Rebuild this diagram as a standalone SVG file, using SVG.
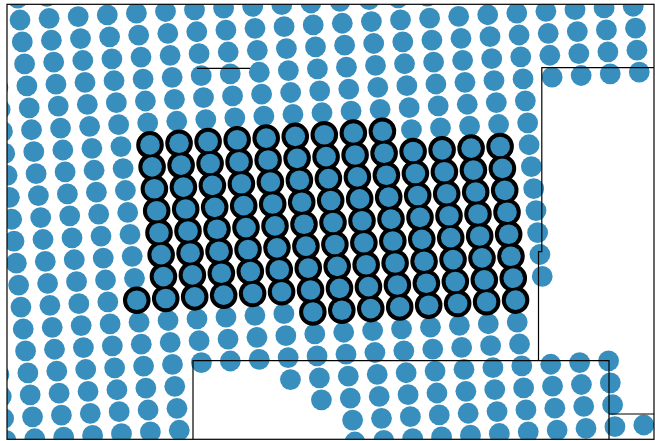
<svg xmlns="http://www.w3.org/2000/svg" width="655" height="441" viewBox="0 0 655 441">
<style>
.ln{fill:none;stroke:#000;stroke-width:1.2}
</style>
<defs>
<clipPath id="ax"><rect x="7" y="4.3" width="647" height="435"/></clipPath>
<g id="A"><circle cx="-58.2" cy="3.4" r="10.4"/><circle cx="-29.1" cy="1.7" r="10.4"/><circle cx="0" cy="0" r="10.4"/><circle cx="29.1" cy="-1.7" r="10.4"/><circle cx="58.2" cy="-3.4" r="10.4"/><circle cx="87.3" cy="-5.1" r="10.4"/><circle cx="116.4" cy="-6.8" r="10.4"/><circle cx="145.5" cy="-8.5" r="10.4"/><circle cx="174.5" cy="-10.2" r="10.4"/><circle cx="203.6" cy="-11.9" r="10.4"/><circle cx="232.7" cy="-13.6" r="10.4"/><circle cx="261.8" cy="-15.3" r="10.4"/><circle cx="290.9" cy="-17" r="10.4"/><circle cx="320" cy="-18.7" r="10.4"/><circle cx="349.1" cy="-20.4" r="10.4"/><circle cx="378.2" cy="-22.1" r="10.4"/><circle cx="407.3" cy="-23.8" r="10.4"/><circle cx="436.4" cy="-25.5" r="10.4"/><circle cx="465.4" cy="-27.2" r="10.4"/><circle cx="494.5" cy="-28.9" r="10.4"/><circle cx="523.6" cy="-30.6" r="10.4"/><circle cx="552.7" cy="-32.3" r="10.4"/><circle cx="581.8" cy="-34" r="10.4"/><circle cx="610.9" cy="-35.7" r="10.4"/></g>
<g id="B1"><circle cx="-58.1" cy="3.4" r="10.4"/><circle cx="-29.05" cy="1.7" r="10.4"/><circle cx="0" cy="0" r="10.4"/><circle cx="29.05" cy="-1.7" r="10.4"/><circle cx="58.1" cy="-3.4" r="10.4"/><circle cx="87.15" cy="-5.1" r="10.4"/><circle cx="116.2" cy="-6.8" r="10.4"/><circle cx="145.25" cy="-8.5" r="10.4"/><circle cx="174.3" cy="-10.2" r="10.4"/><circle cx="203.35" cy="-11.9" r="10.4"/><circle cx="232.4" cy="-13.6" r="10.4"/><circle cx="261.45" cy="-15.3" r="10.4"/><circle cx="290.5" cy="-17" r="10.4"/><circle cx="319.55" cy="-18.7" r="10.4"/><circle cx="348.6" cy="-20.4" r="10.4"/><circle cx="377.65" cy="-22.1" r="10.4"/><circle cx="406.7" cy="-23.8" r="10.4"/><circle cx="435.75" cy="-25.5" r="10.4"/><circle cx="464.8" cy="-27.2" r="10.4"/><circle cx="493.85" cy="-28.9" r="10.4"/></g>
<g id="B2"><circle cx="522.9" cy="-30.6" r="10.4"/><circle cx="551.95" cy="-32.3" r="10.4"/><circle cx="581" cy="-34" r="10.4"/><circle cx="610.05" cy="-35.7" r="10.4"/></g>
<g id="C"><circle cx="-58" cy="3.4" r="10.4"/><circle cx="-29" cy="1.7" r="10.4"/><circle cx="0" cy="0" r="10.4"/><circle cx="29" cy="-1.7" r="10.4"/><circle cx="58" cy="-3.4" r="10.4"/><circle cx="87" cy="-5.1" r="10.4"/><circle cx="116" cy="-6.8" r="10.4"/><circle cx="145" cy="-8.5" r="10.4"/><circle cx="174" cy="-10.2" r="10.4"/><circle cx="203" cy="-11.9" r="10.4"/><circle cx="232" cy="-13.6" r="10.4"/><circle cx="261" cy="-15.3" r="10.4"/><circle cx="290" cy="-17" r="10.4"/><circle cx="319" cy="-18.7" r="10.4"/><circle cx="348" cy="-20.4" r="10.4"/><circle cx="377" cy="-22.1" r="10.4"/><circle cx="406" cy="-23.8" r="10.4"/><circle cx="435" cy="-25.5" r="10.4"/><circle cx="464" cy="-27.2" r="10.4"/><circle cx="493" cy="-28.9" r="10.4"/></g>
<g id="D1"><circle cx="-57.92" cy="3.4" r="10.4"/><circle cx="-28.96" cy="1.7" r="10.4"/><circle cx="0" cy="0" r="10.4"/><circle cx="28.96" cy="-1.7" r="10.4"/><circle cx="57.92" cy="-3.4" r="10.4"/><circle cx="86.88" cy="-5.1" r="10.4"/><circle cx="115.84" cy="-6.8" r="10.4"/><circle cx="144.8" cy="-8.5" r="10.4"/><circle cx="173.76" cy="-10.2" r="10.4"/><circle cx="202.72" cy="-11.9" r="10.4"/><circle cx="231.68" cy="-13.6" r="10.4"/><circle cx="260.64" cy="-15.3" r="10.4"/><circle cx="289.6" cy="-17" r="10.4"/><circle cx="318.56" cy="-18.7" r="10.4"/><circle cx="347.52" cy="-20.4" r="10.4"/><circle cx="376.48" cy="-22.1" r="10.4"/><circle cx="405.44" cy="-23.8" r="10.4"/><circle cx="434.4" cy="-25.5" r="10.4"/><circle cx="463.36" cy="-27.2" r="10.4"/></g>
<g id="D2"><circle cx="492.32" cy="-28.9" r="10.4"/></g>
<g id="E1"><circle cx="-57.84" cy="3.4" r="10.4"/><circle cx="-28.92" cy="1.7" r="10.4"/><circle cx="0" cy="0" r="10.4"/><circle cx="28.92" cy="-1.7" r="10.4"/><circle cx="57.84" cy="-3.4" r="10.4"/><circle cx="86.76" cy="-5.1" r="10.4"/><circle cx="115.68" cy="-6.8" r="10.4"/></g>
<g id="E2"><circle cx="144.6" cy="-8.5" r="10.4"/><circle cx="173.52" cy="-10.2" r="10.4"/><circle cx="202.44" cy="-11.9" r="10.4"/></g>
<g id="E3"><circle cx="231.36" cy="-13.6" r="10.4"/><circle cx="260.28" cy="-15.3" r="10.4"/><circle cx="289.2" cy="-17" r="10.4"/><circle cx="318.12" cy="-18.7" r="10.4"/><circle cx="347.04" cy="-20.4" r="10.4"/><circle cx="375.96" cy="-22.1" r="10.4"/><circle cx="404.88" cy="-23.8" r="10.4"/><circle cx="433.8" cy="-25.5" r="10.4"/><circle cx="462.72" cy="-27.2" r="10.4"/></g>
<g id="E4"><circle cx="491.64" cy="-28.9" r="10.4"/><circle cx="520.56" cy="-30.6" r="10.4"/><circle cx="549.48" cy="-32.3" r="10.4"/></g>
<g id="F1"><circle cx="-57.78" cy="3.4" r="10.4"/><circle cx="-28.89" cy="1.7" r="10.4"/><circle cx="0" cy="0" r="10.4"/><circle cx="28.89" cy="-1.7" r="10.4"/><circle cx="57.78" cy="-3.4" r="10.4"/><circle cx="86.67" cy="-5.1" r="10.4"/><circle cx="115.56" cy="-6.8" r="10.4"/></g>
<g id="F2"><circle cx="260.01" cy="-15.3" r="10.4"/></g>
<g id="F3"><circle cx="288.9" cy="-17" r="10.4"/><circle cx="317.79" cy="-18.7" r="10.4"/><circle cx="346.68" cy="-20.4" r="10.4"/><circle cx="375.57" cy="-22.1" r="10.4"/><circle cx="404.46" cy="-23.8" r="10.4"/><circle cx="433.35" cy="-25.5" r="10.4"/><circle cx="462.24" cy="-27.2" r="10.4"/><circle cx="491.13" cy="-28.9" r="10.4"/><circle cx="520.02" cy="-30.6" r="10.4"/><circle cx="548.91" cy="-32.3" r="10.4"/></g>
<g id="F4"><circle cx="577.8" cy="-34" r="10.4"/></g>
<g id="R6"><circle cx="116.2" cy="-6.8" r="9.8"/><circle cx="145.25" cy="-8.5" r="9.8"/><circle cx="174.3" cy="-10.2" r="9.8"/><circle cx="203.35" cy="-11.9" r="9.8"/><circle cx="232.4" cy="-13.6" r="9.8"/><circle cx="261.45" cy="-15.3" r="9.8"/><circle cx="290.5" cy="-17" r="9.8"/><circle cx="319.55" cy="-18.7" r="9.8"/><circle cx="348.6" cy="-20.4" r="9.8"/></g>
<g id="RC"><circle cx="116" cy="-6.8" r="9.8"/><circle cx="145" cy="-8.5" r="9.8"/><circle cx="174" cy="-10.2" r="9.8"/><circle cx="203" cy="-11.9" r="9.8"/><circle cx="232" cy="-13.6" r="9.8"/><circle cx="261" cy="-15.3" r="9.8"/><circle cx="290" cy="-17" r="9.8"/><circle cx="319" cy="-18.7" r="9.8"/><circle cx="348" cy="-20.4" r="9.8"/><circle cx="377" cy="-22.1" r="9.8"/><circle cx="406" cy="-23.8" r="9.8"/><circle cx="435" cy="-25.5" r="9.8"/><circle cx="464" cy="-27.2" r="9.8"/></g>
<g id="RD3"><circle cx="86.88" cy="-5.1" r="9.8"/></g>
<g id="RDa"><circle cx="115.84" cy="-6.8" r="9.8"/><circle cx="144.8" cy="-8.5" r="9.8"/><circle cx="173.76" cy="-10.2" r="9.8"/><circle cx="202.72" cy="-11.9" r="9.8"/><circle cx="231.68" cy="-13.6" r="9.8"/></g>
<g id="RDb"><circle cx="260.64" cy="-15.3" r="9.8"/><circle cx="289.6" cy="-17" r="9.8"/><circle cx="318.56" cy="-18.7" r="9.8"/><circle cx="347.52" cy="-20.4" r="9.8"/><circle cx="376.48" cy="-22.1" r="9.8"/><circle cx="405.44" cy="-23.8" r="9.8"/><circle cx="434.4" cy="-25.5" r="9.8"/><circle cx="463.36" cy="-27.2" r="9.8"/></g>
<g id="rings">
<g transform="translate(33.8,151.7)"><use href="#R6"/></g>
<g transform="translate(36.1,173.65)"><use href="#RC"/></g>
<g transform="translate(38.4,195.6)"><use href="#RC"/></g>
<g transform="translate(40.7,217.55)"><use href="#RC"/></g>
<g transform="translate(43,239.5)"><use href="#RC"/></g>
<g transform="translate(45.3,261.45)"><use href="#RDa"/><use href="#RDb"/></g>
<g transform="translate(47.6,283.4)"><use href="#RDa"/><use href="#RDb"/></g>
<g transform="translate(49.9,305.35)"><use href="#RD3"/><use href="#RDa"/><use href="#RDb"/></g>
<g transform="translate(52.2,327.3)"><use href="#RDb"/></g>
</g>
</defs>
<rect width="655" height="441" fill="#fff"/>
<g id="particles" clip-path="url(#ax)" fill="#388fbe">
<g transform="translate(17.7,-1.95)"><use href="#A"/></g>
<g transform="translate(20,20)"><use href="#A"/></g>
<g transform="translate(22.3,41.95)"><use href="#A"/></g>
<g transform="translate(24.6,63.9)"><use href="#A"/></g>
<g transform="translate(26.9,85.85)"><use href="#B1"/><use href="#B2"/></g>
<g transform="translate(29.2,107.8)"><use href="#B1"/><use href="#B2"/></g>
<g transform="translate(31.5,129.75)"><use href="#B1"/></g>
<g transform="translate(33.8,151.7)"><use href="#B1"/></g>
<g transform="translate(36.1,173.65)"><use href="#C"/></g>
<g transform="translate(38.4,195.6)"><use href="#C"/></g>
<g transform="translate(40.7,217.55)"><use href="#C"/></g>
<g transform="translate(43,239.5)"><use href="#C"/></g>
<g transform="translate(45.3,261.45)"><use href="#D1"/><use href="#D2"/></g>
<g transform="translate(47.6,283.4)"><use href="#D1"/><use href="#D2"/></g>
<g transform="translate(49.9,305.35)"><use href="#D1"/><use href="#D2"/></g>
<g transform="translate(52.2,327.3)"><use href="#D1"/></g>
<g transform="translate(54.5,349.25)"><use href="#E1"/><use href="#E2"/><use href="#E3"/></g>
<g transform="translate(56.8,371.2)"><use href="#E1"/><use href="#E2"/><use href="#E3"/></g>
<g transform="translate(59.1,393.15)"><use href="#E1"/><use href="#E3"/><use href="#E4"/></g>
<g transform="translate(61.4,415.1)"><use href="#F1"/><use href="#F2"/><use href="#F3"/></g>
<g transform="translate(63.7,437.05)"><use href="#F1"/><use href="#F3"/></g>
<g transform="translate(66,459)"><use href="#F3"/><use href="#F4"/></g>
</g>
<g id="marked" clip-path="url(#ax)">
<use href="#rings" fill="#000" stroke="#000" stroke-width="8"/>
<use href="#rings" fill="#388fbe"/>
</g>
<g id="boundaries">
<rect class="ln" x="7" y="4.3" width="647" height="435"/>
<path class="ln" d="M197,68.3H250"/>
<path class="ln" d="M654,67.7H541.8V251.7H538.5V360.7"/>
<path class="ln" d="M193,439.3V360.7H609V439.3M609,414H654"/>
</g>
</svg>
